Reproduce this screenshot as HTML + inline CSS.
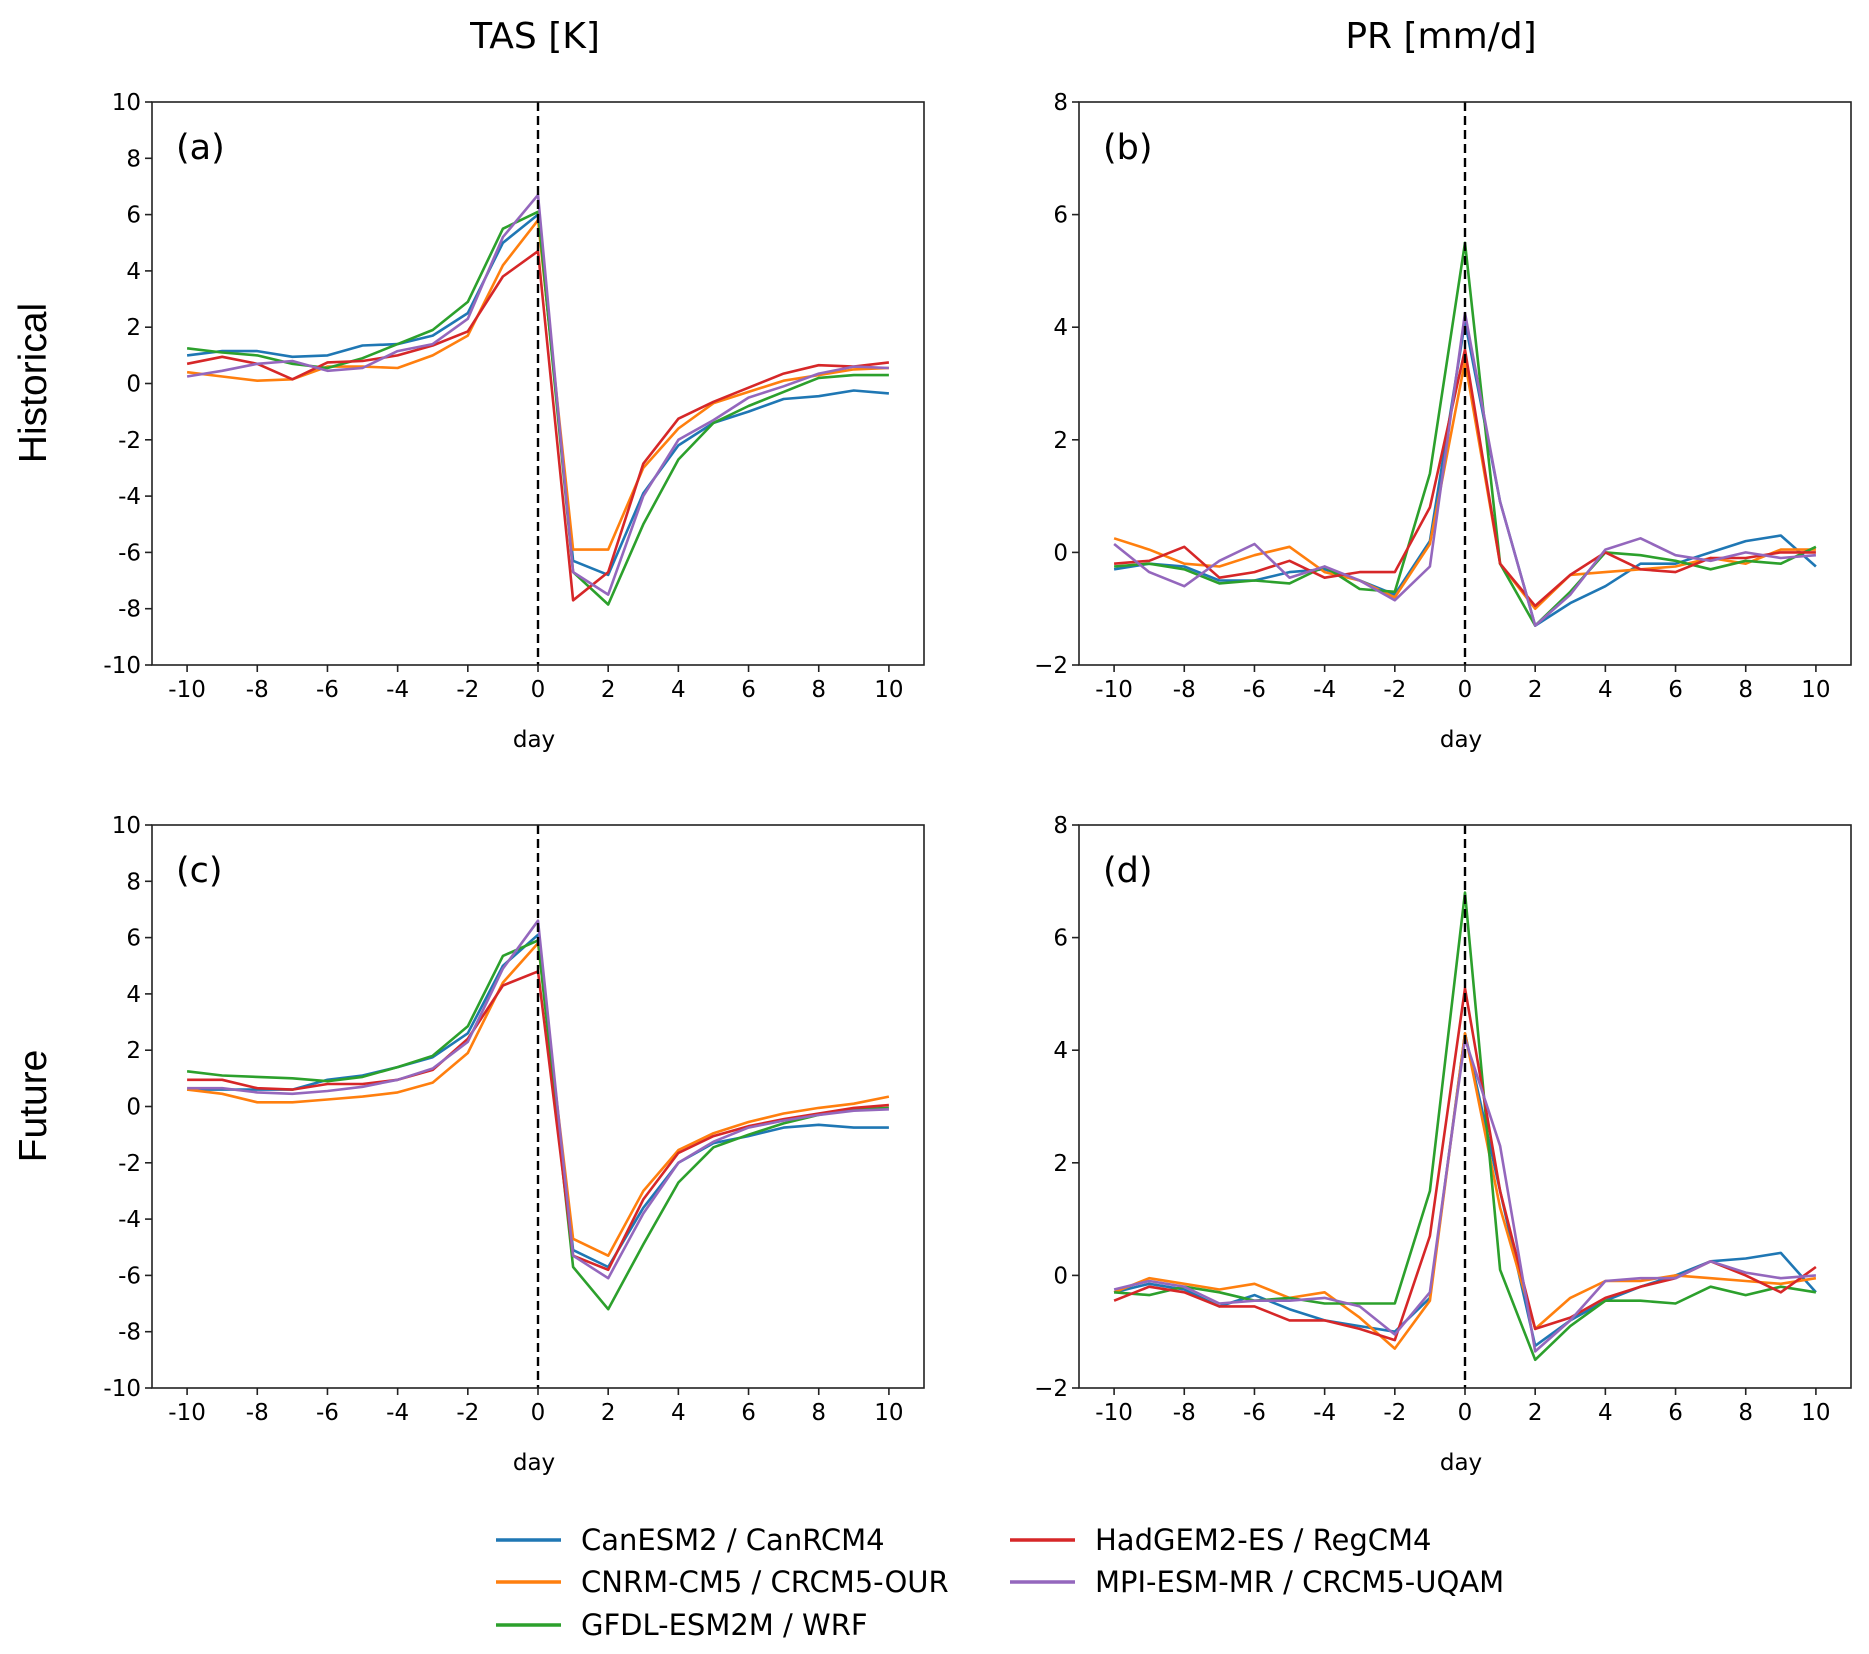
<!DOCTYPE html>
<html><head><meta charset="utf-8"><style>
html,body{margin:0;padding:0;background:#fff;}
svg{display:block;font-family:"DejaVu Sans","Liberation Sans",sans-serif;}
</style></head><body>
<svg id="fig" width="1869" height="1654" viewBox="0 0 1869 1654" xmlns="http://www.w3.org/2000/svg">
<text x="535" y="48" font-size="36" text-anchor="middle">TAS [K]</text>
<text x="1441" y="48" font-size="36" text-anchor="middle">PR [mm/d]</text>
<text transform="translate(46,383) rotate(-90)" font-size="39" text-anchor="middle" font-family="Liberation Sans, sans-serif">Historical</text>
<text transform="translate(46,1106) rotate(-90)" font-size="39" text-anchor="middle" font-family="Liberation Sans, sans-serif">Future</text>
<g id="legend"></g>
</svg>
<script>
const days = [-10,-9,-8,-7,-6,-5,-4,-3,-2,-1,0,1,2,3,4,5,6,7,8,9,10];
const seriesNames = ["CanESM2 / CanRCM4","CNRM-CM5 / CRCM5-OUR","GFDL-ESM2M / WRF","HadGEM2-ES / RegCM4","MPI-ESM-MR / CRCM5-UQAM"];
const colors = ["#1f77b4","#ff7f0e","#2ca02c","#d62728","#9467bd"];
const tasHistBlue=[1.0,1.15,1.15,0.95,1.0,1.35,1.4,1.7,2.5,5.0,6.0,-6.3,-6.8,-3.9,-2.2,-1.4,-1.0,-0.55,-0.45,-0.25,-0.35];
const tasHistOrange=[0.4,0.25,0.1,0.15,0.6,0.6,0.55,1.0,1.7,4.2,5.8,-5.9,-5.9,-3.0,-1.6,-0.7,-0.3,0.1,0.3,0.5,0.55];
const tasHistGreen=[1.25,1.1,1.0,0.7,0.55,0.9,1.4,1.9,2.9,5.5,6.1,-6.7,-7.85,-5.0,-2.7,-1.4,-0.8,-0.3,0.2,0.3,0.3];
const tasHistRed=[0.7,0.95,0.7,0.15,0.75,0.8,1.0,1.35,1.85,3.8,4.7,-7.7,-6.7,-2.85,-1.25,-0.65,-0.15,0.35,0.65,0.6,0.75];
const tasHistPurple=[0.25,0.45,0.7,0.8,0.45,0.55,1.15,1.4,2.3,5.2,6.7,-6.7,-7.5,-4.0,-2.0,-1.3,-0.5,-0.1,0.35,0.6,0.55];
const prHistBlue=[-0.3,-0.2,-0.25,-0.5,-0.5,-0.35,-0.3,-0.5,-0.75,0.2,4.1,0.9,-1.3,-0.9,-0.6,-0.2,-0.2,0.0,0.2,0.3,-0.25];
const prHistOrange=[0.25,0.05,-0.2,-0.25,-0.05,0.1,-0.35,-0.5,-0.8,0.15,3.4,-0.2,-1.0,-0.4,-0.35,-0.3,-0.25,-0.1,-0.2,0.05,0.05];
const prHistGreen=[-0.25,-0.2,-0.3,-0.55,-0.5,-0.55,-0.25,-0.65,-0.7,1.4,5.5,-0.2,-1.3,-0.7,0.0,-0.05,-0.15,-0.3,-0.15,-0.2,0.1];
const prHistRed=[-0.2,-0.15,0.1,-0.45,-0.35,-0.15,-0.45,-0.35,-0.35,0.8,3.6,-0.2,-0.95,-0.4,0.0,-0.3,-0.35,-0.1,-0.1,0.0,0.0];
const prHistPurple=[0.15,-0.35,-0.6,-0.15,0.15,-0.45,-0.25,-0.5,-0.85,-0.25,4.25,0.9,-1.3,-0.75,0.05,0.25,-0.05,-0.15,0.0,-0.1,-0.05];
const tasFutBlue=[0.6,0.6,0.6,0.6,0.95,1.1,1.4,1.75,2.6,5.0,6.1,-5.1,-5.7,-3.6,-2.0,-1.3,-1.05,-0.75,-0.65,-0.75,-0.75];
const tasFutOrange=[0.6,0.45,0.15,0.15,0.25,0.35,0.5,0.85,1.9,4.4,5.8,-4.7,-5.3,-3.0,-1.55,-0.95,-0.55,-0.25,-0.05,0.1,0.35];
const tasFutGreen=[1.25,1.1,1.05,1.0,0.9,1.05,1.4,1.8,2.85,5.35,5.9,-5.7,-7.2,-4.9,-2.7,-1.45,-1.0,-0.6,-0.3,-0.1,-0.05];
const tasFutRed=[0.95,0.95,0.65,0.6,0.8,0.8,0.95,1.3,2.4,4.3,4.8,-5.3,-5.8,-3.3,-1.65,-1.05,-0.7,-0.45,-0.25,-0.05,0.05];
const tasFutPurple=[0.65,0.65,0.5,0.45,0.55,0.7,0.95,1.35,2.3,4.9,6.6,-5.3,-6.1,-3.8,-2.0,-1.25,-0.75,-0.5,-0.3,-0.15,-0.1];
const prFutBlue=[-0.3,-0.15,-0.25,-0.55,-0.35,-0.6,-0.8,-0.9,-1.0,-0.4,4.3,1.5,-1.25,-0.8,-0.45,-0.2,0.0,0.25,0.3,0.4,-0.3];
const prFutOrange=[-0.3,-0.05,-0.15,-0.25,-0.15,-0.4,-0.3,-0.75,-1.3,-0.45,4.3,1.2,-0.95,-0.4,-0.1,-0.1,0.0,-0.05,-0.1,-0.15,-0.05];
const prFutGreen=[-0.3,-0.35,-0.2,-0.3,-0.45,-0.4,-0.5,-0.5,-0.5,1.5,6.8,0.1,-1.5,-0.9,-0.45,-0.45,-0.5,-0.2,-0.35,-0.2,-0.3];
const prFutRed=[-0.45,-0.2,-0.3,-0.55,-0.55,-0.8,-0.8,-0.95,-1.15,0.7,5.1,1.5,-0.95,-0.75,-0.4,-0.2,-0.05,0.25,0.0,-0.3,0.15];
const prFutPurple=[-0.25,-0.1,-0.2,-0.5,-0.45,-0.45,-0.4,-0.55,-1.05,-0.3,4.2,2.3,-1.35,-0.8,-0.1,-0.05,-0.05,0.25,0.05,-0.05,0.0];
const xTicks=[-10,-8,-6,-4,-2,0,2,4,6,8,10];
const tasTicks=[-10,-8,-6,-4,-2,0,2,4,6,8,10];
const prTicks=[-2,0,2,4,6,8];

const NS="http://www.w3.org/2000/svg";
const svg=document.getElementById('fig');
function mk(tag,attrs,parent){const e=document.createElementNS(NS,tag);for(const k in attrs)e.setAttribute(k,attrs[k]);(parent||svg).appendChild(e);return e;}

const panels=[
 {id:'a',x:152,y:102,ymin:-10,ymax:10,ticks:tasTicks,minus:'-',series:[tasHistBlue,tasHistOrange,tasHistGreen,tasHistRed,tasHistPurple]},
 {id:'b',x:1079,y:102,ymin:-2,ymax:8,ticks:prTicks,minus:'\u2212',series:[prHistBlue,prHistOrange,prHistGreen,prHistRed,prHistPurple]},
 {id:'c',x:152,y:825,ymin:-10,ymax:10,ticks:tasTicks,minus:'-',series:[tasFutBlue,tasFutOrange,tasFutGreen,tasFutRed,tasFutPurple]},
 {id:'d',x:1079,y:825,ymin:-2,ymax:8,ticks:prTicks,minus:'\u2212',series:[prFutBlue,prFutOrange,prFutGreen,prFutRed,prFutPurple]}
];
const W=772,H=563;
panels.forEach(p=>{
  const g=mk('g',{});
  
  
  const xs=v=>p.x+W*(v+11)/22;
  const ys=v=>p.y+H*(p.ymax-v)/(p.ymax-p.ymin);
  p.series.forEach((s,i)=>{
    const pts=s.map((v,j)=>xs(days[j]).toFixed(1)+','+ys(v).toFixed(1)).join(' ');
    const pl=mk('polyline',{points:pts,fill:'none',stroke:colors[i],'stroke-width':2.6,'stroke-linejoin':'round'},g);
    
    
  });
  const dl=mk('line',{x1:xs(0),x2:xs(0),y1:p.y,y2:p.y+H,stroke:'#000','stroke-width':2.4,'stroke-dasharray':'9,5'},g);
  
  
  const fr=mk('rect',{x:p.x,y:p.y,width:W,height:H,fill:'none',stroke:'#222','stroke-width':1.6},g);
  
  
  xTicks.forEach(t=>{
    mk('line',{x1:xs(t),x2:xs(t),y1:p.y+H,y2:p.y+H+7,stroke:'#222','stroke-width':1.6},g);
    const tx=mk('text',{x:xs(t),y:p.y+H+32,'font-size':23,'text-anchor':'middle'},g);
    tx.textContent=(t<0?'-':'')+Math.abs(t);
    
    
  });
  p.ticks.forEach(t=>{
    mk('line',{x1:p.x-7,x2:p.x,y1:ys(t),y2:ys(t),stroke:'#222','stroke-width':1.6},g);
    const tx=mk('text',{x:p.x-11,y:ys(t)+8,'font-size':23,'text-anchor':'end'},g);
    tx.textContent=(t<0?p.minus:'')+Math.abs(t);
    
    
  });
  const xl=mk('text',{x:p.x+W/2-4,y:p.y+H+82,'font-size':23,'text-anchor':'middle'},g);
  xl.textContent='day';
  
  
  const pl=mk('text',{x:p.x+24,y:p.y+57,'font-size':35},g);
  pl.textContent='('+p.id+')';
  
  
});
const lg=document.getElementById('legend');
const legPos=[[496,1540],[496,1582],[496,1625],[1010,1540],[1010,1582]];
seriesNames.forEach((n,i)=>{
  const [lx,ly]=legPos[i];
  const e=mk('g',{},lg);
  
  
  mk('line',{x1:lx,x2:lx+65,y1:ly,y2:ly,stroke:colors[i],'stroke-width':3.5},e);
  const t=mk('text',{x:lx+85,y:ly+10,'font-size':29},e);
  t.textContent=n;
});
</script>
</body></html>
